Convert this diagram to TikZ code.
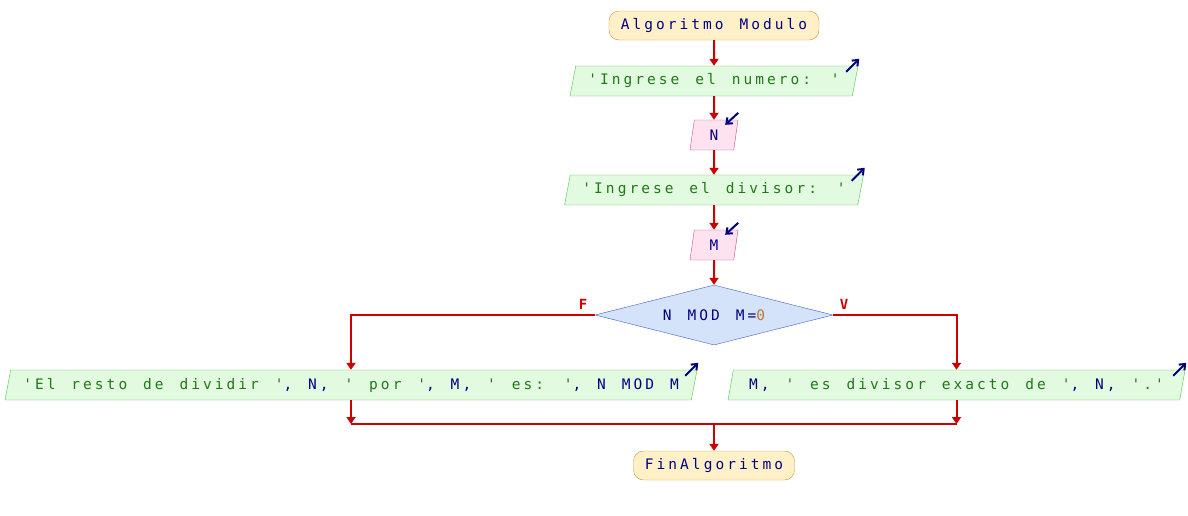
\documentclass[tikz,border=0pt]{standalone}
\usepackage{fontspec}
\usepackage{xcolor}
\usepackage{tikz}
\usetikzlibrary{arrows.meta, positioning, shapes.geometric, calc}
\newfontfamily\psfont[LetterSpace=21,WordSpace=1.35]{DejaVu Sans Mono}
\definecolor{psred}{HTML}{CC0000}
\definecolor{psnavy}{HTML}{000080}
\definecolor{psgreen}{HTML}{1E7A14}
\definecolor{psnum}{HTML}{C07838}
\definecolor{termfill}{HTML}{FFF0C8}
\definecolor{termdraw}{HTML}{C8963C}
\definecolor{salfill}{HTML}{E2FAE0}
\definecolor{saldraw}{HTML}{50C050}
\definecolor{entfill}{HTML}{FFE2F0}
\definecolor{entdraw}{HTML}{C0508C}
\definecolor{decfill}{HTML}{D4E2FA}
\definecolor{decdraw}{HTML}{4060C8}

\begin{document}
\begin{tikzpicture}[x=1pt, y=-1pt,
  every node/.style={font=\psfont\fontsize{14.5}{16}\selectfont, text=psnavy, inner sep=0pt},
  term/.style={rectangle, rounded corners=10pt, draw=termdraw, fill=termfill, minimum height=29pt},
  sal/.style={trapezium, trapezium left angle=68, trapezium right angle=112, trapezium stretches body,
    draw=saldraw, fill=salfill, minimum height=30pt},
  ent/.style={sal, draw=entdraw, fill=entfill},
  dec/.style={diamond, shape aspect=3.97, draw=decdraw, fill=decfill, minimum width=238pt, minimum height=60pt},
  flecha/.style={-{Triangle[width=9pt,length=7pt]}, draw=psred, line width=2pt},
  linea/.style={draw=psred, line width=2pt},
  icono/.style={-{Straight Barb[width=8pt,length=5pt]}, draw=psnavy, line width=2pt},
  lbl/.style={text=psred, font=\psfont\bfseries\fontsize{14}{16}\selectfont}]
  \useasboundingbox (0,0) rectangle (1188,515);
  \node[term, minimum width=210pt] (inicio) at (714,25.5) {Algoritmo Modulo};
  \node[sal, minimum width=288pt] (o1) at (714,81) {\color{psgreen}'Ingrese el numero: '};
  \node[ent, minimum width=48pt] (n) at (714,135) {N};
  \node[sal, minimum width=299pt] (o2) at (714,190) {\color{psgreen}'Ingrese el divisor: '};
  \node[ent, minimum width=48pt] (m) at (714,245) {M};
  \node[dec] (cond) at (714,315) {N MOD M=\textcolor{psnum}{0}};
  \node[sal, minimum width=692pt] (o3) at (351,385)
    {\textcolor{psgreen}{'El resto de dividir '}, N, \textcolor{psgreen}{' por '}, M, \textcolor{psgreen}{' es: '}, N MOD M};
  \node[sal, minimum width=457pt] (o4) at (956.5,385)
    {M, \textcolor{psgreen}{' es divisor exacto de '}, N, \textcolor{psgreen}{'.'}};
  \node[term, minimum width=161pt] (fin) at (714,465.5) {FinAlgoritmo};
  \coordinate (j1) at (351,424);
  \coordinate (j2) at (956.5,424);
  \coordinate (jm) at (714,424);
  \node[lbl] (lf) at (583,304) {F};
  \node[lbl] (lv) at (844,304) {V};
  \draw[flecha] (inicio) -- (o1);
  \draw[flecha] (o1) -- (n);
  \draw[flecha] (n) -- (o2);
  \draw[flecha] (o2) -- (m);
  \draw[flecha] (m) -- (cond);
  \draw[flecha] (cond.west) -| (o3);
  \draw[flecha] (cond.east) -| (o4);
  \draw[flecha] (o3) -- (j1);
  \draw[flecha] (o4) -- (j2);
  \draw[linea] (j1) -- (j2);
  \draw[flecha] (jm) -- (fin);
  % iconos de entrada / salida
  \draw[icono] ($(o1.top right corner)+(-12,6)$) -- ++(13,-13);
  \draw[icono] ($(o2.top right corner)+(-12,6)$) -- ++(13,-13);
  \draw[icono] ($(o3.top right corner)+(-12,6)$) -- ++(13,-13);
  \draw[icono] ($(o4.top right corner)+(-12,6)$) -- ++(13,-13);
  \draw[icono] ($(n.top right corner)+(0,-7)$) -- ++(-13,12);
  \draw[icono] ($(m.top right corner)+(0,-7)$) -- ++(-13,12);
\end{tikzpicture}
\end{document}
